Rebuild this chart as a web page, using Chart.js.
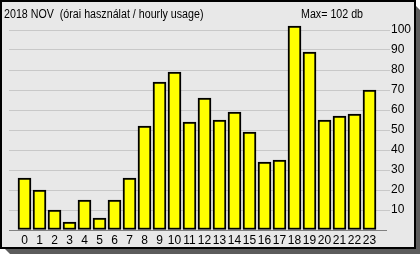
<!DOCTYPE html>
<html>
<head>
<meta charset="utf-8">
<script src="https://cdn.jsdelivr.net/npm/chart.js@4/dist/chart.umd.min.js"></script>
<style>
  html, body { margin: 0; padding: 0; background: #ffffff; }
  canvas { display: block; }
</style>
</head>
<body>
<canvas id="usage-chart" width="420" height="254"></canvas>
<script>
// ============================================================
// Hourly usage chart - 2018 NOV
// ============================================================

const HOURS = ['0', '1', '2', '3', '4', '5', '6', '7', '8', '9', '10', '11',
  '12', '13', '14', '15', '16', '17', '18', '19', '20', '21', '22', '23'];
const USAGE = [26, 20, 10, 4, 15, 6, 15, 26, 52, 74, 79, 54,
  66, 55, 59, 49, 34, 35, 102, 89, 55, 57, 58, 70];
const Y_TICKS = [10, 20, 30, 40, 50, 60, 70, 80, 90, 100];
const TITLE_TEXT = '2018 NOV  (órai használat / hourly usage)';
const MAX_TEXT = 'Max= 102 db';

const COLORS = {
  panel: '#e8e8e8',
  frame: '#000000',
  shadow: '#5c5c5c',
  grid: '#c8c8c8',
  axis: '#808080',
  bar: '#ffff00',
  text: '#000000'
};

const FONT = "'Liberation Sans', Arial, sans-serif";

// Narrow-ish header text: draw at 12px, squeezed horizontally
function drawNarrowText(ctx, text, x, y) {
  ctx.save();
  ctx.translate(x, y);
  ctx.scale(0.89, 1);
  ctx.fillText(text, 0, 0);
  ctx.restore();
}

// Panel with black frame and drop shadow, plus the two header texts
const panelPlugin = {
  id: 'panel',
  beforeDraw(chart) {
    const ctx = chart.ctx;
    ctx.save();
    ctx.fillStyle = COLORS.shadow;
    ctx.beginPath();
    ctx.moveTo(0, 244);
    ctx.lineTo(10, 254);
    ctx.lineTo(420, 254);
    ctx.lineTo(420, 10);
    ctx.lineTo(410, 0);
    ctx.closePath();
    ctx.fill();
    ctx.fillStyle = COLORS.panel;
    ctx.fillRect(0, 0, 416, 249);
    ctx.strokeStyle = COLORS.frame;
    ctx.lineWidth = 2;
    ctx.strokeRect(1, 1, 414, 247);
    ctx.restore();
  },
  afterDraw(chart) {
    const ctx = chart.ctx;
    ctx.save();
    ctx.fillStyle = COLORS.text;
    ctx.font = '12px ' + FONT;
    ctx.textBaseline = 'alphabetic';
    ctx.textAlign = 'left';
    drawNarrowText(ctx, TITLE_TEXT, 4, 18);
    drawNarrowText(ctx, MAX_TEXT, 301, 18);
    ctx.restore();
  }
};

function renderUsageChart() {
  const canvas = document.getElementById('usage-chart');
  if (!canvas) return;

  new Chart(canvas, {
    type: 'bar',
    data: {
      datasets: [{
        label: 'usage',
        data: USAGE.map((v, i) => ({ x: i, y: v })),
        backgroundColor: COLORS.bar,
        borderColor: COLORS.frame,
        borderWidth: 2,
        borderSkipped: false,
        barThickness: 13
      }]
    },
    options: {
      responsive: false,
      animation: false,
      devicePixelRatio: 1,
      layout: { padding: { left: 9, top: 10, right: 0, bottom: 0 } },
      plugins: {
        legend: { display: false },
        tooltip: { enabled: false }
      },
      scales: {
        x: {
          type: 'linear',
          offset: false,
          min: -1.0333,
          max: 24.1,
          afterBuildTicks: axis => { axis.ticks = HOURS.map((_, i) => ({ value: i })); },
          afterFit: scale => { scale.height = 24; },
          grid: { display: false, drawTicks: false },
          border: { display: true, color: COLORS.axis, width: 1 },
          ticks: {
            color: COLORS.text,
            font: { family: FONT, size: 12 },
            padding: 3,
            maxRotation: 0,
            autoSkip: false,
            callback: v => HOURS[v]
          }
        },
        y: {
          position: 'right',
          min: 0,
          max: 110,
          afterBuildTicks: axis => { axis.ticks = [0].concat(Y_TICKS, [110]).map(v => ({ value: v })); },
          afterFit: scale => { scale.width = 34; },
          grid: {
            color: ctx => (Y_TICKS.includes(ctx.tick.value) ? COLORS.grid : 'rgba(0,0,0,0)'),
            tickLength: 4,
            lineWidth: 1
          },
          border: { display: false },
          ticks: {
            color: COLORS.text,
            font: { family: FONT, size: 12 },
            padding: 1,
            callback: v => (Y_TICKS.includes(v) ? String(v) : '')
          }
        }
      }
    },
    plugins: [panelPlugin]
  });
}

renderUsageChart();
</script>
</body>
</html>
